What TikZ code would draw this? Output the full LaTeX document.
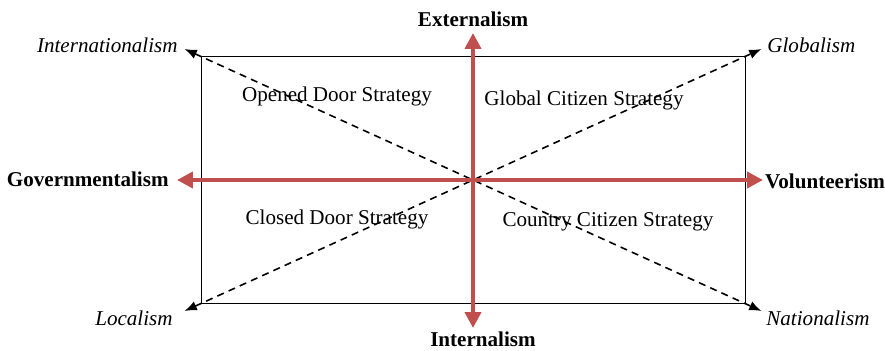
\documentclass[tikz,border=0pt]{standalone}
\usepackage{fontspec}
\setmainfont{Liberation Serif}
\usetikzlibrary{arrows.meta}

\definecolor{axisred}{RGB}{192,80,77}

\begin{document}
\begin{tikzpicture}[
        axis/.style={axisred, line width=2.2pt, {Triangle[length=9pt,width=9pt]}-{Triangle[length=9pt,width=9pt]}},
        diag/.style={dash pattern=on 4pt off 3pt, line width=0.9pt, {Latex[length=7pt,width=5.5pt]}-{Latex[length=7pt,width=5.5pt]}},
        pole/.style={font=\bfseries},
        side/.style={font=\itshape}
    ]
    \fontsize{12}{14}\selectfont
    \useasboundingbox (-9.46,-3.4) rectangle (8.24,3.6);

    % Frame
    \node (box) [draw, minimum width=10.88cm, minimum height=4.94cm, inner sep=0pt] at (0,0) {};
    \coordinate (c) at (0,0);

    % Ends of the diagonals
    \coordinate (tl) at (-5.77,2.62);
    \coordinate (tr) at (5.77,2.62);
    \coordinate (bl) at (-5.77,-2.62);
    \coordinate (br) at (5.77,-2.62);
    \draw [diag] (tl) -- (br);
    \draw [diag] (bl) -- (tr);

    \node (intl) [side, anchor=east] at (-5.76,2.7) {Internationalism};
    \node (glob) [side, anchor=west] at (5.74,2.7) {Globalism};
    \node (loc) [side, anchor=east] at (-5.86,-2.76) {Localism};
    \node (nat) [side, anchor=west] at (5.72,-2.76) {Nationalism};

    % Ends of the axes
    \coordinate (top) at (0,2.94);
    \coordinate (bot) at (0,-2.96);
    \coordinate (lft) at (-5.92,0);
    \coordinate (rgt) at (5.8,0);
    \draw [axis] (lft) -- (rgt);
    \draw [axis] (bot) -- (top);

    \node (ext) [pole] at (0,3.22) {Externalism};
    \node (int) [pole] at (0.2,-3.18) {Internalism};
    \node (gov) [pole, anchor=east] at (-5.94,0.02) {Governmentalism};
    \node (vol) [pole, anchor=west, inner sep=1pt] at (5.8,-0.02) {Volunteerism};

    % Strategies
    \node (opened) at (-2.72,1.68) {Opened Door Strategy};
    \node (global) at (2.22,1.6) {Global Citizen Strategy};
    \node (closed) at (-2.72,-0.78) {Closed Door Strategy};
    \node (country) at (2.7,-0.84) {Country Citizen Strategy};
\end{tikzpicture}
\end{document}
